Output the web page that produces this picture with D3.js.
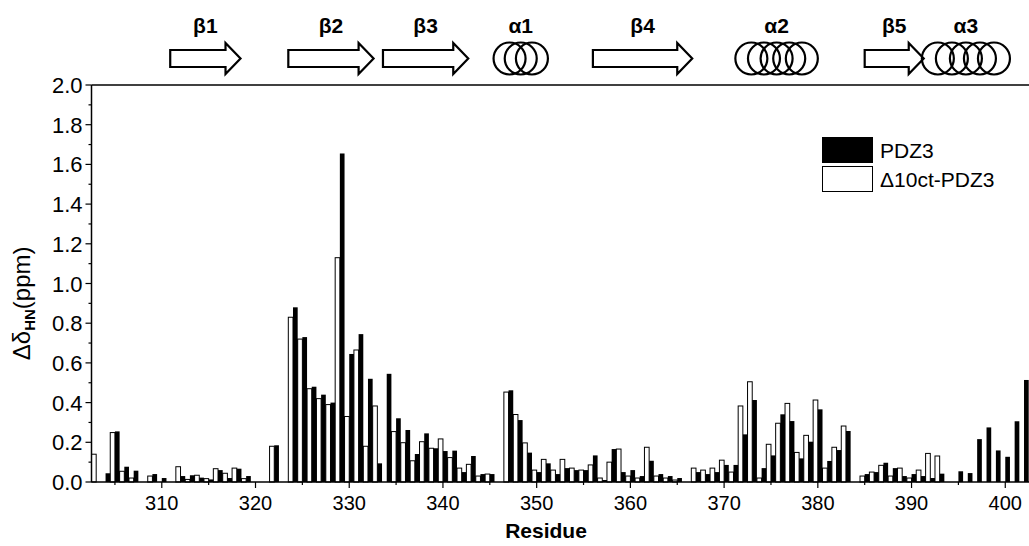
<!DOCTYPE html>
<html>
<head>
<meta charset="utf-8">
<script src="https://cdn.jsdelivr.net/npm/d3@7"></script>
<style>
  body { margin: 0; background: #fff; }
  text { font-family: Arial, "Liberation Sans", sans-serif; }
</style>
</head>
<body>
<script>
//Width and height
var w = 1029;
var h = 546;

//residue numbers and the two series (ppm)
var residues = d3.range(303, 403);
var pdz3 = [0, 0.044, 0.255, 0.077, 0.057, 0, 0.04, 0.02, 0, 0.03,
  0.034, 0.022, 0.013, 0.06, 0.02, 0.067, 0.03, 0, 0, 0.185,
  0, 0.88, 0.73, 0.48, 0.44, 0.40, 1.655, 0.645, 0.745, 0.52,
  0.094, 0.545, 0.321, 0.262, 0.141, 0.245, 0.17, 0.156, 0.158, 0.05,
  0.131, 0.04, 0.04, 0, 0.462, 0.312, 0.148, 0.05, 0.094, 0.04,
  0.07, 0.06, 0.06, 0.134, 0.01, 0.166, 0.05, 0.06, 0.03, 0.107,
  0.04, 0.03, 0.02, 0, 0.05, 0.04, 0.05, 0.086, 0.086, 0.24,
  0.413, 0.07, 0.134, 0.341, 0.307, 0.119, 0.203, 0.366, 0.106, 0.161,
  0.257, 0, 0.04, 0.05, 0.097, 0.07, 0.03, 0.04, 0.03, 0.02,
  0.042, 0, 0.054, 0.045, 0.216, 0.275, 0.159, 0.127, 0.306, 0.514];
var ct10 = [0.14, 0, 0.249, 0.054, 0.02, 0, 0.03, 0, 0, 0.077,
  0.013, 0.034, 0.017, 0.067, 0.044, 0.07, 0.017, 0, 0, 0.18,
  0, 0.83, 0.72, 0.47, 0.42, 0.39, 1.13, 0.33, 0.665, 0.18,
  0.383, 0, 0.254, 0.198, 0.107, 0.203, 0.17, 0.217, 0.123, 0.07,
  0.089, 0.03, 0.04, 0, 0.453, 0.34, 0.197, 0.06, 0.114, 0.06,
  0.114, 0.07, 0.06, 0.086, 0.02, 0.10, 0.166, 0.03, 0.02, 0.175,
  0.03, 0.02, 0.01, 0, 0.07, 0.06, 0.07, 0.11, 0.05, 0.383,
  0.505, 0.02, 0.19, 0.296, 0.396, 0.149, 0.235, 0.413, 0.07, 0.175,
  0.282, 0, 0.03, 0.05, 0.084, 0.03, 0.07, 0.02, 0.06, 0.144,
  0.131, 0, 0, 0, 0, 0, 0, 0, 0, 0];

//secondary structure elements (residue ranges)
var ssNames = ["β1", "β2", "β3", "α1", "β4", "α2", "β5", "α3"];
var ssTypes = ["strand", "strand", "strand", "helix", "strand", "helix", "strand", "helix"];
var ssStart = [310.9, 323.5, 333.6, 345.4, 356.0, 371.2, 385.0, 391.1];
var ssEnd = [318.4, 332.6, 342.7, 351.2, 366.6, 380.0, 391.3, 400.5];
var ssTurns = [0, 0, 0, 3, 0, 5, 0, 5];

var xTicks = d3.range(310, 401, 10);
var yTicks = d3.range(0, 2.01, 0.2);

//scales
var x = d3.scaleLinear().domain([302.5, 402.5]).range([91.5, 1028.7]);
var y = d3.scaleLinear().domain([0, 2]).range([482, 85]);

var svg = d3.select("body").append("svg")
  .attr("width", w)
  .attr("height", h);

//bars: white series left half, black series right half
svg.selectAll("rect.ct")
  .data(residues)
  .enter()
  .append("rect")
  .attr("class", "ct")
  .filter(function(d, i) { return ct10[i] > 0; })
  .attr("x", function(d) { return x(d - 0.5); })
  .attr("y", function(d) { return y(ct10[residues.indexOf(d)]); })
  .attr("width", function(d) { return x(d) - x(d - 0.5); })
  .attr("height", function(d) { return y(0) - y(ct10[residues.indexOf(d)]); })
  .attr("fill", "#fff")
  .attr("stroke", "#000")
  .attr("stroke-width", 1);

svg.selectAll("rect.pdz")
  .data(residues)
  .enter()
  .append("rect")
  .attr("class", "pdz")
  .filter(function(d, i) { return pdz3[i] > 0; })
  .attr("x", function(d) { return x(d); })
  .attr("y", function(d) { return y(pdz3[residues.indexOf(d)]); })
  .attr("width", function(d) { return x(d + 0.5) - x(d); })
  .attr("height", function(d) { return y(0) - y(pdz3[residues.indexOf(d)]); })
  .attr("fill", "#000");

//x axis
var xAxis = svg.append("g").attr("transform", "translate(0," + y(0) + ")");
xAxis.append("line").attr("x1", x(302.5)).attr("x2", w).attr("stroke", "#000").attr("stroke-width", 1.5);
xAxis.selectAll("line.minor")
  .data(d3.range(305, 403, 5))
  .enter().append("line")
  .attr("x1", function(d) { return x(d); })
  .attr("x2", function(d) { return x(d); })
  .attr("y1", 0)
  .attr("y2", function(d) { return d % 10 == 0 ? 6 : 3; })
  .attr("stroke", "#000").attr("stroke-width", 1.2);
xAxis.selectAll("text")
  .data(xTicks)
  .enter().append("text")
  .attr("x", function(d) { return x(d); })
  .attr("y", 28)
  .attr("text-anchor", "middle")
  .style("font-size", "20px")
  .text(function(d) { return d; });

//top frame line
svg.append("line").attr("x1", x(302.5)).attr("x2", w)
  .attr("y1", y(2)).attr("y2", y(2))
  .attr("stroke", "#000").attr("stroke-width", 1.5);

//y axis
var yAxis = svg.append("g").attr("transform", "translate(" + x(302.5) + ",0)");
yAxis.append("line").attr("y1", y(0)).attr("y2", y(2)).attr("stroke", "#000").attr("stroke-width", 1.5);
yAxis.selectAll("line.tick")
  .data(d3.range(0, 21))
  .enter().append("line")
  .attr("x1", 0)
  .attr("x2", function(d) { return d % 2 == 0 ? -6 : -3; })
  .attr("y1", function(d) { return y(d / 10); })
  .attr("y2", function(d) { return y(d / 10); })
  .attr("stroke", "#000").attr("stroke-width", 1.2);
yAxis.selectAll("text")
  .data(yTicks)
  .enter().append("text")
  .attr("x", -9)
  .attr("y", function(d) { return y(d) + 8; })
  .attr("text-anchor", "end")
  .style("font-size", "22px")
  .text(function(d) { return d.toFixed(1); });

//axis titles
svg.append("text")
  .attr("x", x(351))
  .attr("y", 538)
  .attr("text-anchor", "middle")
  .style("font-size", "21px")
  .style("font-weight", "bold")
  .text("Residue");

var yt = svg.append("text")
  .attr("transform", "translate(30," + (y(0.9)) + ") rotate(-90)")
  .attr("text-anchor", "middle")
  .style("font-size", "24px");
yt.append("tspan").text("Δδ");
yt.append("tspan").attr("baseline-shift", "-30%").style("font-size", "15px").style("font-weight", "bold").text("HN");
yt.append("tspan").text("(ppm)");

//legend
var legend = svg.append("g");
legend.append("rect").attr("x", 822).attr("y", 137).attr("width", 51).attr("height", 26).attr("fill", "#000");
legend.append("rect").attr("x", 822.5).attr("y", 166.5).attr("width", 50).attr("height", 25)
  .attr("fill", "#fff").attr("stroke", "#000").attr("stroke-width", 1);
legend.append("text").attr("x", 880).attr("y", 158).style("font-size", "21px").text("PDZ3");
legend.append("text").attr("x", 880).attr("y", 187).style("font-size", "21px").text("Δ10ct-PDZ3");

//secondary structure cartoon
var ss = svg.append("g");
ssNames.forEach(function(name, i) {
  var x0 = x(ssStart[i]), x1 = x(ssEnd[i]);
  ss.append("text")
    .attr("x", (x0 + x1) / 2)
    .attr("y", 33)
    .attr("text-anchor", "middle")
    .style("font-size", "21px")
    .style("font-weight", "bold")
    .text(name);
  if (ssTypes[i] == "strand") {
    var head = 15;
    var p = d3.path();
    p.moveTo(x0, 50);
    p.lineTo(x1 - head, 50);
    p.lineTo(x1 - head, 43);
    p.lineTo(x1, 58.5);
    p.lineTo(x1 - head, 74);
    p.lineTo(x1 - head, 67);
    p.lineTo(x0, 67);
    p.closePath();
    ss.append("path").attr("d", p.toString())
      .attr("fill", "#fff").attr("stroke", "#000").attr("stroke-width", 2.2);
  } else {
    var r = 16;
    var n = ssTurns[i];
    var step = (x1 - x0 - 2 * r) / (n - 1);
    for (var k = 0; k < n; k++) {
      ss.append("circle")
        .attr("cx", x0 + r + k * step)
        .attr("cy", 58.5)
        .attr("r", r)
        .attr("fill", "none")
        .attr("stroke", "#000")
        .attr("stroke-width", 2.2);
    }
  }
});
</script>
</body>
</html>
